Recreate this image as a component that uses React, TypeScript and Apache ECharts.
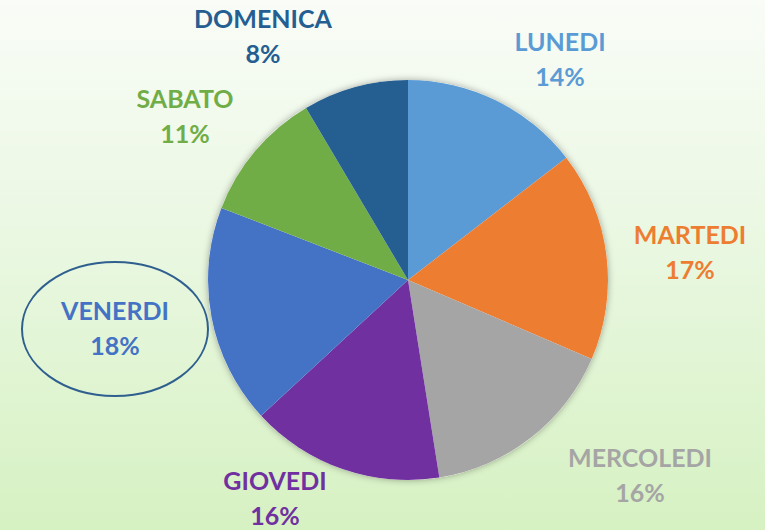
import React, { useEffect, useRef } from "react";
import * as echarts from "echarts";

const days = ["LUNEDI", "MARTEDI", "MERCOLEDI", "GIOVEDI", "VENERDI", "SABATO", "DOMENICA"];
const values = [14.5, 16.9, 16.0, 15.6, 17.7, 10.6, 8.5];
const colors = ["#5B9BD5", "#ED7D31", "#A5A5A5", "#7030A0", "#4472C4", "#70AD47", "#255E91"];

// label centre positions (layout only)
const labelCenters: [number, number][] = [
  [560, 58],
  [690, 251],
  [640, 474],
  [275, 497],
  [115, 327],
  [185, 115],
  [263, 35],
];

export default function App() {
  const ref = useRef<HTMLDivElement>(null);
  useEffect(() => {
    document.body.style.margin = "0";
    if (!ref.current) return;
    const chart = echarts.init(ref.current, undefined, { renderer: "svg" });
    chart.setOption({
      animation: false,
      backgroundColor: new echarts.graphic.LinearGradient(0, 0, 0, 1, [
        { offset: 0, color: "#F9FCF7" },
        { offset: 0.5, color: "#E8F7DF" },
        { offset: 1, color: "#D6F1C2" },
      ]),
      graphic: [
        {
          type: "ellipse",
          shape: { cx: 115, cy: 329, rx: 93, ry: 67 },
          style: { fill: "none", stroke: "#2F5F8F", lineWidth: 2 },
          z: 10,
        },
      ],
      series: [
        {
          type: "pie",
          center: [408, 280],
          radius: 200,
          silent: true,
          z: 1,
          label: { show: false },
          labelLine: { show: false },
          itemStyle: { color: "#ffffff", shadowBlur: 7, shadowColor: "rgba(0,0,0,0.35)" },
          data: [{ value: 1, name: "" }],
        },
        {
          type: "pie",
          center: [408, 280],
          radius: 200,
          startAngle: 90,
          clockwise: true,
          percentPrecision: 0,
          z: 2,
          data: days.map((d, i) => ({
            name: d,
            value: values[i],
            itemStyle: { color: colors[i] },
            label: { color: colors[i] },
          })),
          label: {
            show: true,
            position: "outside",
            formatter: "{b}\n{d}%",
            fontFamily: "Lato",
            fontWeight: "bold",
            fontSize: 25,
            lineHeight: 35,
            align: "center",
            overflow: "none",
          },
          labelLine: { show: false },
          labelLayout: (p: any) => {
            const c = labelCenters[p.dataIndex];
            return { x: c[0], y: c[1], align: "center", verticalAlign: "middle", width: 200 };
          },
        },
      ],
    });
    return () => chart.dispose();
  }, []);
  return <div ref={ref} style={{ width: 765, height: 530 }} />;
}
